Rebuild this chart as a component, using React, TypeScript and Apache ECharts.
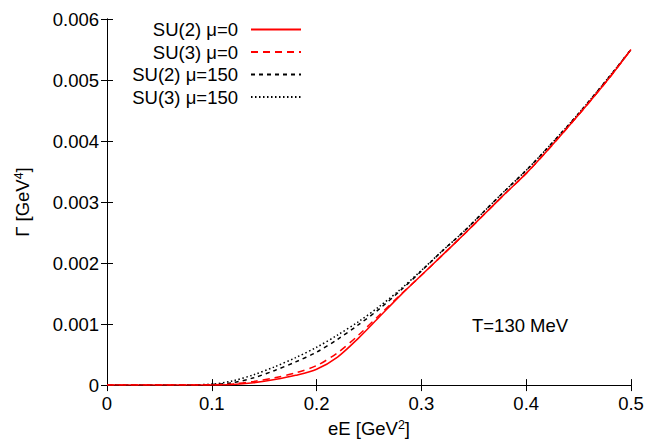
import React, { useEffect, useRef } from "react";
import * as echarts from "echarts";

const xs = [0, 0.05, 0.1, 0.12, 0.14, 0.16, 0.18, 0.2, 0.22, 0.24, 0.26, 0.28, 0.3, 0.32, 0.34, 0.36, 0.38, 0.4, 0.42, 0.45, 0.48, 0.5];
const su2mu0 = [0, 0, 0.000003, 0.00001, 0.00004, 0.00009, 0.00016, 0.00026, 0.00046, 0.00077, 0.00112, 0.00147, 0.00180, 0.00213, 0.00246, 0.00280, 0.00314, 0.00347, 0.00384, 0.00443, 0.00505, 0.0055];
const su3mu0 = [0, 0, 0.000005, 0.00002, 0.00006, 0.00012, 0.0002, 0.00032, 0.00053, 0.00082, 0.00115, 0.00148, 0.00180, 0.00213, 0.00246, 0.00280, 0.00314, 0.00347, 0.00384, 0.00443, 0.00505, 0.0055];
const su2mu150 = [0, 0, 0.00001, 0.00004, 0.00012, 0.00024, 0.00038, 0.00054, 0.00075, 0.00099, 0.00125, 0.00155, 0.00187, 0.0022, 0.00251, 0.00285, 0.00319, 0.00352, 0.00388, 0.00445, 0.00507, 0.0055];
const su3mu150 = [0, 0, 0.000015, 0.00007, 0.00017, 0.0003, 0.00045, 0.00062, 0.00082, 0.00104, 0.00129, 0.00157, 0.00188, 0.0022, 0.00251, 0.00285, 0.00319, 0.00352, 0.00388, 0.00445, 0.00507, 0.0055];

const seriesNames = ["SU(2) μ=0", "SU(3) μ=0", "SU(2) μ=150", "SU(3) μ=150"];
const xTicks = ["0", "0.1", "0.2", "0.3", "0.4", "0.5"];
const yTicks = ["0", "0.001", "0.002", "0.003", "0.004", "0.005", "0.006"];

const FONT = "Liberation Sans";
const FS = 18.5;

export default function App() {
  const ref = useRef<HTMLDivElement>(null);
  useEffect(() => {
    if (!ref.current) return;
    const chart = echarts.init(ref.current, null, { renderer: "svg" });
    const pair = (ys: number[]) => xs.map((x, i) => [x, ys[i]]);
    const styles = [
      { color: "#ff0000", type: "solid" as any },
      { color: "#ff0000", type: [7, 5] as any },
      { color: "#000000", type: [4, 4] as any },
      { color: "#000000", type: [1.5, 2.5] as any },
    ];
    const datas = [su2mu0, su3mu0, su2mu150, su3mu150];
    const axisLine = { show: true, lineStyle: { color: "#000", width: 1 } };
    const tick = { show: true, inside: true, length: 6, lineStyle: { color: "#000" } };
    const supRich = { sup: { fontFamily: FONT, fontSize: 12.5, color: "#000", verticalAlign: "top", padding: [0, 0, 8, 0] } };
    chart.setOption({
      animation: false,
      backgroundColor: "#fff",
      grid: { left: 107, right: 18, top: 19, bottom: 55, containLabel: false },
      legend: seriesNames.map((n, i) => ({
        data: [n],
        orient: "vertical",
        right: 347,
        top: 20 + i * 22.5,
        align: "right",
        itemWidth: 50,
        itemHeight: 12,
        padding: 0,
        selectedMode: false,
        itemStyle: { opacity: 0 },
        textStyle: { fontFamily: FONT, fontSize: FS, color: "#000", padding: [0, 8, 0, 0] },
      })),
      xAxis: [
        {
          type: "value",
          min: 0,
          max: 0.5,
          interval: 0.1,
          position: "bottom",
          name: "eE [GeV{sup|2}]",
          nameLocation: "middle",
          nameGap: 31,
          nameTextStyle: { fontFamily: FONT, fontSize: FS, color: "#000", rich: supRich },
          axisLine,
          axisTick: tick,
          splitLine: { show: false },
          axisLabel: {
            fontFamily: FONT,
            fontSize: FS,
            color: "#000",
            margin: 9,
            formatter: (v: number) => xTicks[Math.round(v * 10)] ?? "",
          },
        },
        {
          type: "value",
          min: 0,
          max: 0.5,
          interval: 0.1,
          position: "top",
          axisLine,
          axisTick: tick,
          axisLabel: { show: false },
          splitLine: { show: false },
        },
      ],
      yAxis: [
        {
          type: "value",
          min: 0,
          max: 0.006,
          interval: 0.001,
          position: "left",
          name: "Γ [GeV{sup|4}]",
          nameLocation: "middle",
          nameGap: 74,
          nameRotate: 90,
          nameTextStyle: { fontFamily: FONT, fontSize: FS, color: "#000", rich: supRich },
          axisLine,
          axisTick: tick,
          splitLine: { show: false },
          axisLabel: {
            fontFamily: FONT,
            fontSize: FS,
            color: "#000",
            margin: 8,
            formatter: (v: number) => yTicks[Math.round(v * 1000)] ?? "",
          },
        },
        {
          type: "value",
          min: 0,
          max: 0.006,
          interval: 0.001,
          position: "right",
          axisLine,
          axisTick: tick,
          axisLabel: { show: false },
          splitLine: { show: false },
        },
      ],
      graphic: [
        {
          type: "text",
          left: 472,
          top: 316,
          style: { text: "T=130 MeV", fontFamily: FONT, fontSize: FS, fill: "#000" },
        },
      ],
      series: datas.map((d, i) => ({
        name: seriesNames[i],
        type: "line",
        data: pair(d),
        smooth: 0.3,
        symbol: "none",
        showSymbol: false,
        z: 10 - i,
        lineStyle: { color: styles[i].color, type: styles[i].type, width: 1.5 },
        itemStyle: { color: styles[i].color },
      })),
    });
    return () => chart.dispose();
  }, []);
  return <div ref={ref} style={{ width: 649, height: 443, position: "fixed", left: 0, top: 0 }} />;
}
